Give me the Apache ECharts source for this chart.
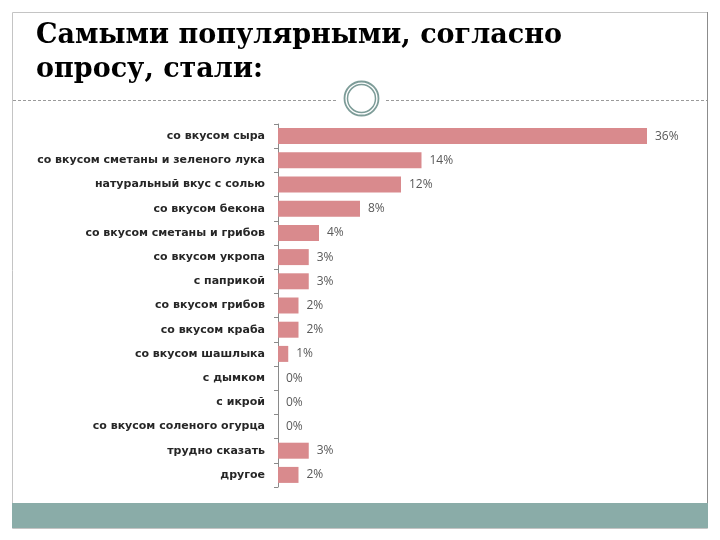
<!DOCTYPE html>
<html>
<head>
<meta charset="utf-8">
<script src="https://cdn.jsdelivr.net/npm/echarts@6/dist/echarts.min.js"></script>
<style>html,body{margin:0;padding:0;background:#fff;}#c{width:720px;height:540px;}</style>
</head>
<body>
<div id="c"></div>
<script>
const titleText = 'Самыми популярными, согласно\nопросу, стали:';
const categories = [
  'со вкусом сыра',
  'со вкусом сметаны и зеленого лука',
  'натуральный вкус с солью',
  'со вкусом бекона',
  'со вкусом сметаны и грибов',
  'со вкусом укропа',
  'с паприкой',
  'со вкусом грибов',
  'со вкусом краба',
  'со вкусом шашлыка',
  'с дымком',
  'с икрой',
  'со вкусом соленого огурца',
  'трудно сказать',
  'другое'
];
const values = [36, 14, 12, 8, 4, 3, 3, 2, 2, 1, 0, 0, 0, 3, 2];

const chart = echarts.init(document.getElementById('c'));
chart.setOption({
  animation: false,
  backgroundColor: '#ffffff',
  title: {
    text: titleText,
    left: 31,
    top: 14,
    textStyle: {
      fontFamily: 'DejaVu Serif',
      fontWeight: 'bold',
      fontSize: 27,
      lineHeight: 34,
      color: '#000000'
    }
  },
  graphic: [
    { type: 'rect', shape: { x: 12.5, y: 12.5, width: 695, height: 516 }, style: { fill: 'none', stroke: '#c4c4c4', lineWidth: 1 }, z: 0 },
    { type: 'line', shape: { x1: 707.5, y1: 12, x2: 707.5, y2: 528 }, style: { stroke: '#8c8c8c', lineWidth: 1 } },
    { type: 'rect', shape: { x: 12, y: 503, width: 696, height: 25 }, style: { fill: '#8aaca8' } },
    { type: 'line', shape: { x1: 13, y1: 100.5, x2: 336, y2: 100.5 }, style: { stroke: '#9a9a9a', lineWidth: 1, lineDash: [3, 2] } },
    { type: 'line', shape: { x1: 386, y1: 100.5, x2: 707, y2: 100.5 }, style: { stroke: '#9a9a9a', lineWidth: 1, lineDash: [3, 2] } },
    { type: 'circle', shape: { cx: 361.5, cy: 98.5, r: 17 }, style: { fill: '#ffffff', stroke: '#7d9c98', lineWidth: 1.8 } },
    { type: 'circle', shape: { cx: 361.5, cy: 98.5, r: 14 }, style: { fill: 'none', stroke: '#7d9c98', lineWidth: 1.5 } }
  ],
  grid: { left: 278, top: 124, width: 410, height: 363, containLabel: false },
  xAxis: {
    type: 'value',
    min: 0,
    max: 40,
    show: false
  },
  yAxis: {
    type: 'category',
    data: categories,
    inverse: true,
    axisLine: { show: true, lineStyle: { color: '#8a8a8a', width: 1 } },
    axisTick: { show: true, length: 4, alignWithLabel: false, lineStyle: { color: '#8a8a8a' } },
    axisLabel: {
      margin: 13,
      fontFamily: 'DejaVu Sans',
      fontWeight: 'bold',
      fontSize: 11,
      color: '#262626'
    },
    splitLine: { show: false }
  },
  series: [{
    type: 'bar',
    data: values,
    barWidth: 16,
    itemStyle: { color: '#d98a8d' },
    label: {
      show: true,
      position: 'right',
      distance: 8,
      formatter: '{c}%',
      fontFamily: 'Open Sans',
      fontSize: 12,
      color: '#595959'
    }
  }]
});
</script>
</body>
</html>
